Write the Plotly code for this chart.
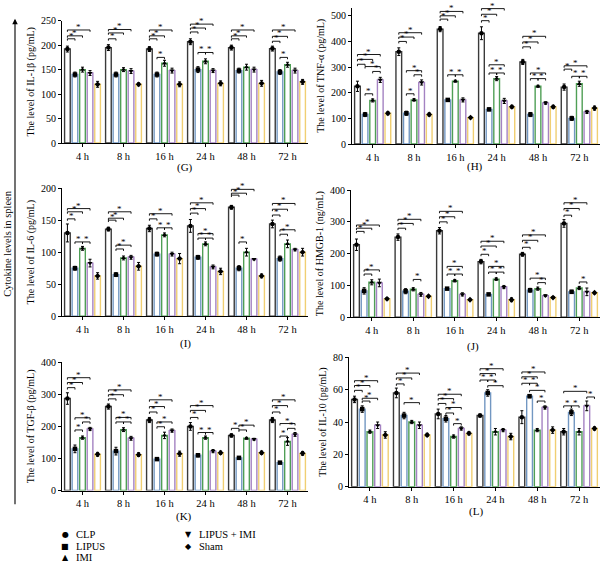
import plotly.graph_objects as go

times = ["4 h", "8 h", "16 h", "24 h", "48 h", "72 h"]
groups = ["CLP", "LIPUS", "IMI", "LIPUS + IMI", "Sham"]
symbols = ["circle", "square", "triangle-up", "triangle-down", "diamond"]
edge_colors = ["#3a3a3a", "#7297c2", "#4f9f55", "#a482c2", "#f0cf72"]

# ---- (G) IL-1beta, rows = groups, cols = times
il1b_mean = [[192, 195, 192, 207, 195, 193],
             [140, 140, 140, 150, 148, 145],
             [150, 150, 163, 167, 155, 160],
             [143, 147, 148, 148, 150, 148],
             [120, 120, 120, 122, 122, 125]]
il1b_err = [[6, 6, 5, 6, 5, 5], [5, 5, 5, 6, 5, 5], [5, 4, 6, 5, 6, 5],
            [5, 5, 5, 4, 5, 5], [6, 3, 5, 5, 6, 5]]
il1b_sig = [(0, 0, 1, 213), (0, 0, 2, 219), (0, 0, 3, 231),
            (1, 0, 1, 213), (1, 0, 2, 225), (1, 0, 3, 232),
            (2, 0, 1, 213), (2, 0, 2, 219), (2, 0, 3, 231), (2, 1, 2, 175),
            (3, 0, 1, 227), (3, 0, 2, 235), (3, 0, 3, 243), (3, 1, 2, 185), (3, 2, 3, 185),
            (4, 0, 1, 213), (4, 0, 2, 219), (4, 0, 3, 231),
            (5, 0, 1, 208), (5, 0, 2, 218), (5, 0, 3, 231), (5, 1, 2, 175)]

# ---- (H) TNF-alpha
tnf_mean = [[225, 360, 448, 432, 320, 222],
            [115, 120, 172, 135, 115, 100],
            [170, 172, 245, 255, 225, 235],
            [250, 240, 172, 168, 160, 125],
            [120, 115, 103, 145, 145, 140]]
tnf_err = [[20, 15, 10, 25, 10, 12], [8, 8, 5, 5, 8, 8], [6, 5, 4, 8, 4, 10],
           [10, 10, 8, 10, 5, 6], [6, 6, 4, 6, 6, 8]]
tnf_sig = [(0, 0, 1, 311), (0, 0, 2, 330), (0, 0, 3, 349), (0, 1, 3, 302), (0, 2, 3, 283), (0, 1, 2, 196),
           (1, 0, 1, 400), (1, 0, 2, 417), (1, 0, 3, 434), (1, 1, 2, 196), (1, 1, 3, 286), (1, 2, 3, 270),
           (2, 0, 1, 487), (2, 0, 2, 500), (2, 0, 3, 517), (2, 1, 2, 270), (2, 2, 3, 270),
           (3, 0, 1, 481), (3, 0, 2, 506), (3, 0, 3, 528), (3, 1, 3, 309), (3, 1, 2, 277), (3, 2, 3, 277),
           (4, 0, 1, 379), (4, 0, 2, 398), (4, 0, 3, 420), (4, 1, 3, 277), (4, 1, 2, 255), (4, 2, 3, 255),
           (5, 0, 1, 292), (5, 0, 3, 305), (5, 1, 2, 264), (5, 2, 3, 264)]

# ---- (I) IL-6
il6_mean = [[130, 136, 137, 141, 170, 144],
            [75, 65, 97, 92, 75, 90],
            [106, 91, 127, 113, 100, 113],
            [83, 92, 97, 77, 89, 104],
            [63, 78, 90, 70, 63, 100]]
il6_err = [[14, 3, 5, 10, 3, 6], [3, 3, 3, 3, 4, 4], [3, 3, 3, 3, 6, 6],
           [6, 3, 3, 3, 1, 2], [5, 6, 8, 5, 3, 6]]
il6_sig = [(0, 0, 1, 152), (0, 0, 2, 163), (0, 0, 3, 168), (0, 1, 2, 116), (0, 2, 3, 116),
           (1, 0, 1, 150), (1, 0, 2, 153), (1, 0, 3, 163), (1, 1, 3, 111), (1, 1, 2, 105),
           (2, 0, 1, 152), (2, 0, 3, 160), (2, 1, 2, 138), (2, 2, 3, 138),
           (3, 0, 1, 161), (3, 0, 2, 168), (3, 0, 3, 177), (3, 1, 3, 129), (3, 1, 2, 122), (3, 2, 3, 122),
           (4, 0, 1, 189), (4, 0, 2, 192), (4, 0, 3, 198), (4, 1, 2, 116),
           (5, 0, 1, 158), (5, 0, 2, 167), (5, 0, 3, 176), (5, 1, 3, 135), (5, 1, 2, 128)]

# ---- (J) HMGB-1
hmgb_mean = [[228, 252, 272, 175, 198, 295],
             [83, 82, 90, 72, 85, 80],
             [110, 88, 115, 120, 90, 92],
             [108, 72, 72, 95, 68, 80],
             [58, 66, 55, 55, 62, 77]]
hmgb_err = [[18, 10, 10, 7, 6, 12], [10, 8, 3, 3, 6, 5], [8, 5, 4, 4, 5, 5],
            [12, 6, 5, 5, 3, 12], [3, 3, 2, 6, 3, 3]]
hmgb_sig = [(0, 0, 1, 270), (0, 0, 2, 280), (0, 0, 3, 290), (0, 1, 3, 149), (0, 1, 2, 136),
            (1, 0, 1, 280), (1, 0, 2, 295), (1, 0, 3, 308), (1, 2, 3, 119),
            (2, 0, 1, 300), (2, 0, 2, 316), (2, 0, 3, 333), (2, 1, 3, 160), (2, 1, 2, 136), (2, 2, 3, 136),
            (3, 0, 1, 198), (3, 0, 2, 224), (3, 0, 3, 239), (3, 1, 3, 160), (3, 1, 2, 142), (3, 2, 3, 142),
            (4, 0, 1, 220), (4, 0, 2, 242), (4, 0, 3, 259), (4, 1, 3, 123), (4, 2, 3, 109),
            (5, 0, 1, 321), (5, 0, 2, 342), (5, 0, 3, 360), (5, 2, 3, 111)]

# ---- (K) TGF-beta
tgf_mean = [[287, 262, 220, 200, 172, 220],
            [130, 123, 98, 110, 102, 87],
            [165, 190, 172, 165, 163, 153],
            [192, 163, 187, 123, 160, 175],
            [113, 112, 115, 118, 118, 116]]
tgf_err = [[18, 8, 8, 12, 5, 8], [12, 12, 3, 5, 3, 3], [5, 6, 10, 5, 3, 12],
           [5, 6, 5, 5, 3, 6], [6, 6, 8, 5, 5, 6]]
tgf_sig = [(0, 0, 1, 321), (0, 0, 2, 337), (0, 0, 3, 352), (0, 1, 2, 189), (0, 1, 3, 227), (0, 2, 3, 214),
           (1, 0, 1, 286), (1, 0, 2, 299), (1, 0, 3, 314), (1, 1, 3, 228), (1, 1, 2, 214), (1, 2, 3, 214),
           (2, 0, 1, 245), (2, 0, 2, 262), (2, 0, 3, 283), (2, 1, 2, 199), (2, 1, 3, 214),
           (3, 0, 1, 228), (3, 0, 2, 250), (3, 0, 3, 265), (3, 1, 2, 181), (3, 2, 3, 181),
           (4, 0, 1, 194), (4, 1, 2, 189), (4, 1, 3, 204),
           (5, 0, 1, 245), (5, 0, 2, 265), (5, 0, 3, 283), (5, 1, 2, 170), (5, 2, 3, 194), (5, 1, 3, 209)]

# ---- (L) IL-10
il10_mean = [[54, 58, 45, 44, 43, 34],
             [48, 44, 42, 58, 56, 46],
             [34, 40, 31, 34, 35, 34],
             [38, 38, 36, 35, 49, 50],
             [32, 32, 33, 31, 35, 36]]
il10_err = [[2, 3, 3, 1, 4, 2], [2, 2, 2, 2, 1, 2], [1, 1, 1, 2, 1, 2],
            [2, 2, 1, 1, 1, 3], [2, 1, 1, 2, 2, 1]]
il10_sig = [(0, 0, 1, 59.6), (0, 0, 2, 62.6), (0, 0, 3, 65.6), (0, 1, 2, 53), (0, 1, 3, 54.7),
            (1, 0, 1, 63.6), (1, 0, 2, 67.3), (1, 0, 3, 70.3), (1, 1, 3, 52),
            (2, 0, 1, 51.5), (2, 0, 2, 54.5), (2, 0, 3, 57.2), (2, 1, 2, 45.6), (2, 1, 3, 49), (2, 2, 3, 39),
            (3, 0, 1, 66), (3, 0, 2, 70), (3, 0, 3, 73), (3, 1, 2, 66), (3, 1, 3, 62.5),
            (4, 0, 1, 64), (4, 0, 2, 68), (4, 0, 3, 71), (4, 1, 2, 64), (4, 1, 3, 59.6), (4, 2, 3, 53),
            (5, 0, 1, 50), (5, 1, 2, 50), (5, 0, 3, 59), (5, 3, 4, 55.5)]

panels = [
    dict(mean=il1b_mean, err=il1b_err, sig=il1b_sig, title="The level of IL-1β (pg/mL)",
         ymax=250, top=250, dtick=50, label="(G)", xd=(62, 308), yd=(140, 15), lab_xy=(185, 165)),
    dict(mean=tnf_mean, err=tnf_err, sig=tnf_sig, title="The level of TNF-α (pg/mL)",
         ymax=500, top=532, dtick=100, label="(H)", xd=(352, 600), yd=(141, 10), lab_xy=(475, 164)),
    dict(mean=il6_mean, err=il6_err, sig=il6_sig, title="The level of IL-6 (pg/mL)",
         ymax=200, top=200, dtick=50, label="(I)", xd=(62, 308), yd=(317, 186), lab_xy=(185, 345)),
    dict(mean=hmgb_mean, err=hmgb_err, sig=hmgb_sig, title="The level of HMGB-1 (ng/mL)",
         ymax=400, top=400, dtick=100, label="(J)", xd=(351, 600), yd=(318, 188), lab_xy=(473, 348)),
    dict(mean=tgf_mean, err=tgf_err, sig=tgf_sig, title="The level of TGF-β (pg/mL)",
         ymax=400, top=400, dtick=100, label="(K)", xd=(62, 308), yd=(495, 364), lab_xy=(184, 522)),
    dict(mean=il10_mean, err=il10_err, sig=il10_sig, title="The level of IL-10 (pg/mL)",
         ymax=80, top=80, dtick=20, label="(L)", xd=(349, 600), yd=(491, 359), lab_xy=(476, 516)),
]

W, H = 600, 568
SERIF = "Liberation Serif"
BARGAP = 0.08

fig = go.Figure()
shapes = []
annotations = []


def bar_center(t, j):
    span = 1 - BARGAP
    return t - span / 2 + span / 5 * (j + 0.5)


for k, p in enumerate(panels):
    sfx = "" if k == 0 else str(k + 1)
    xa, ya = "x" + sfx, "y" + sfx
    for j, g in enumerate(groups):
        fig.add_trace(go.Bar(
            x=times, y=p["mean"][j], xaxis=xa, yaxis=ya, name=g, offsetgroup=str(j),
            marker=dict(color="white", line=dict(color=edge_colors[j], width=1.4)),
            error_y=dict(type="data", array=p["err"][j], color="black", thickness=1, width=1.5),
            showlegend=False))
        fig.add_trace(go.Scatter(
            x=times, y=p["mean"][j], xaxis=xa, yaxis=ya, mode="markers", offsetgroup=str(j),
            marker=dict(symbol=symbols[j], color="black", size=4.5), showlegend=False,
            cliponaxis=False))
    # pixel scale of the axis: keep the tick top (ymax) at the reference pixel
    y0pix, ymaxpix = p["yd"]
    toppix = y0pix - (y0pix - ymaxpix) * p["top"] / p["ymax"]
    xd = [p["xd"][0] / W, p["xd"][1] / W]
    yd = [1 - y0pix / H, min(1.0, 1 - toppix / H)]
    fig.layout["xaxis" + sfx] = dict(
        domain=xd, anchor=ya, type="category", categoryorder="array", categoryarray=times,
        range=[-0.5, 5.5], showline=True, linecolor="black", linewidth=1, ticks="outside",
        ticklen=3, tickcolor="black", showgrid=False, zeroline=False,
        tickfont=dict(family=SERIF, size=10.5, color="black"))
    fig.layout["yaxis" + sfx] = dict(
        domain=yd, anchor=xa, range=[0, p["top"]], tick0=0, dtick=p["dtick"],
        tickvals=list(range(0, p["ymax"] + 1, p["dtick"])), showline=True,
        linecolor="black", linewidth=1, ticks="outside", ticklen=3, tickcolor="black",
        showgrid=False, zeroline=False, tickfont=dict(family=SERIF, size=10, color="black"),
        title=dict(text=p["title"], font=dict(family=SERIF, size=10, color="black"), standoff=4))
    d = p["ymax"] * 0.015
    for (t, a, b, yv) in p["sig"]:
        x0, x1 = bar_center(t, a), bar_center(t, b)
        shapes.append(dict(type="path", xref=xa, yref=ya,
                           path=f"M {x0},{yv - d} L {x0},{yv} L {x1},{yv} L {x1},{yv - d}",
                           line=dict(color="black", width=0.9)))
        annotations.append(dict(x=(x0 + x1) / 2, y=yv, xref=xa, yref=ya, text="*",
                                showarrow=False, xanchor="center", yanchor="bottom", yshift=-4,
                                font=dict(family=SERIF, size=9, color="black")))
    annotations.append(dict(x=p["lab_xy"][0] / W, y=1 - p["lab_xy"][1] / H, xref="paper",
                            yref="paper", text=p["label"], showarrow=False,
                            xanchor="center", yanchor="middle",
                            font=dict(family=SERIF, size=11, color="black")))

# left side label and arrow
annotations.append(dict(x=8 / W, y=1 - 243 / H, xref="paper", yref="paper",
                        text="Cytokine levels in spleen", textangle=-90, showarrow=False,
                        xanchor="center", yanchor="middle",
                        font=dict(family=SERIF, size=10.5, color="black")))
annotations.append(dict(x=15 / W, y=1 - 13 / H, xref="paper", yref="paper", text="",
                        showarrow=True, ax=0, ay=487, arrowhead=2, arrowsize=1,
                        arrowwidth=1.1, arrowcolor="black"))

# legend (manual, two columns)
legend_glyphs = ["●", "■", "▲", "▼", "◆"]
legend_pos = [(65, 540), (65, 552), (65, 563), (188, 540), (188, 552)]
for j, g in enumerate(groups):
    gx, gy = legend_pos[j]
    annotations.append(dict(x=gx / W, y=1 - gy / H, xref="paper", yref="paper",
                            text=legend_glyphs[j], showarrow=False, xanchor="center",
                            yanchor="middle",
                            font=dict(family="DejaVu Sans", size=8, color="black")))
    annotations.append(dict(x=(gx + 9) / W, y=1 - gy / H, xref="paper", yref="paper",
                            text=g, showarrow=False, xanchor="left", yanchor="middle",
                            font=dict(family=SERIF, size=10.5, color="black")))

fig.update_layout(
    width=W, height=H, margin=dict(l=0, r=0, t=0, b=0),
    paper_bgcolor="white", plot_bgcolor="white",
    barmode="group", bargap=BARGAP, bargroupgap=0.25,
    scattermode="group", scattergap=BARGAP,
    shapes=shapes, annotations=annotations, showlegend=False,
    font=dict(family=SERIF, color="black"))

fig.write_html("out.html")
